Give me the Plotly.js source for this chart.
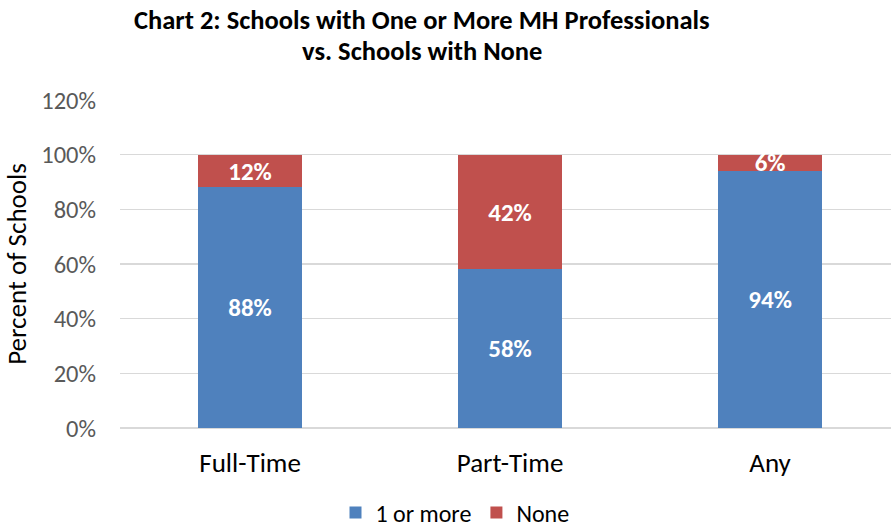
<!DOCTYPE html>
<html>
<head>
<meta charset="utf-8">
<script src="https://cdn.plot.ly/plotly-3.0.1.min.js"></script>
<style>html,body{margin:0;padding:0;background:#fff;}#chart{width:891px;height:529px;}</style>
</head>
<body>
<div id="chart"></div>
<script>
const categories = ["Full-Time", "Part-Time", "Any"];
const oneOrMore = [0.88, 0.58, 0.94];
const none = [0.12, 0.42, 0.06];
const seriesNames = ["1 or more", "None"];
const yTickVals = [0, 0.2, 0.4, 0.6, 0.8, 1.0, 1.2];
const titleLines = ["Chart 2: Schools with One or More MH Professionals", "vs. Schools with None"];

const FONT = "Carlito, Calibri, 'Open Sans', sans-serif";

const traces = [
  {
    type: "bar", name: seriesNames[0], x: categories, y: oneOrMore,
    marker: {color: "#4F81BD"}, width: 0.4,
    text: oneOrMore.map(v => Math.round(v*100) + "%"),
    textposition: "inside", insidetextanchor: "middle", constraintext: "none",
    textangle: 0,
    textfont: {family: FONT, size: 25, color: "#ffffff", weight: "bold"},
    hoverinfo: "skip"
  },
  {
    type: "bar", name: seriesNames[1], x: categories, y: none,
    marker: {color: "#C0504D"}, width: 0.4,
    text: none.map(v => Math.round(v*100) + "%"),
    textposition: "inside", insidetextanchor: "middle", constraintext: "none",
    textangle: 0,
    textfont: {family: FONT, size: 25, color: "#ffffff", weight: "bold"},
    hoverinfo: "skip"
  }
];

const layout = {
  width: 891, height: 529,
  barmode: "stack",
  paper_bgcolor: "#fff", plot_bgcolor: "#fff",
  margin: {l: 120, r: 0, t: 100, b: 101},
  font: {family: FONT, color: "#000"},
  annotations: [
    {text: "<b>" + titleLines[0] + "</b>", xref: "paper", yref: "paper", x: (422-120)/771, y: (428-20)/328,
     xanchor: "center", yanchor: "middle", showarrow: false, font: {family: FONT, size: 26.5, color: "#000"}},
    {text: "<b>" + titleLines[1] + "</b>", xref: "paper", yref: "paper", x: (422-120)/771, y: (428-51)/328,
     xanchor: "center", yanchor: "middle", showarrow: false, font: {family: FONT, size: 26.5, color: "#000"}}
  ],
  xaxis: {
    type: "category", range: [-0.5, 2.465],
    showgrid: false, zeroline: false, showline: false, ticks: "",
    tickfont: {family: FONT, size: 27, color: "#000"},
    ticklabelstandoff: 16
  },
  yaxis: {
    range: [0, 1.2], tickvals: yTickVals,
    ticktext: yTickVals.map(v => Math.round(v*100) + "%"),
    showgrid: true, gridcolor: "#D9D9D9", gridwidth: 1.5,
    zeroline: true, zerolinecolor: "#D9D9D9", zerolinewidth: 1.5,
    showline: false, ticks: "",
    tickfont: {family: FONT, size: 24.5, color: "#595959"},
    ticklabelstandoff: 23,
    title: {text: "Percent of Schools", font: {family: FONT, size: 27, color: "#000"}, standoff: 12}
  },
  showlegend: true,
  legend: {
    orientation: "h", x: 455/891, xref: "container", xanchor: "center",
    y: (529-513)/529, yref: "container", yanchor: "middle",
    font: {family: FONT, size: 24, color: "#000"},
    traceorder: "normal", itemwidth: 30
  }
};

Plotly.newPlot("chart", traces, layout, {displayModeBar: false, staticPlot: true});
</script>
</body>
</html>
